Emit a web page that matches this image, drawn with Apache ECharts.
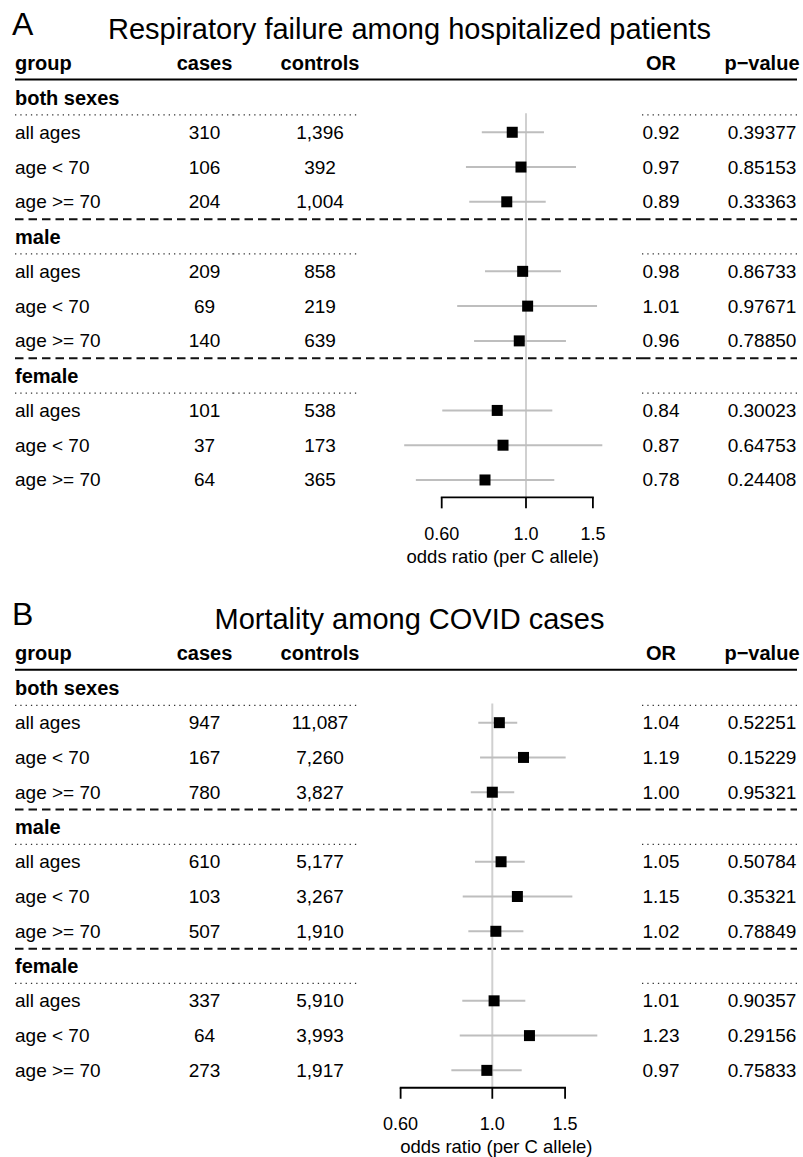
<!DOCTYPE html>
<html><head><meta charset="utf-8">
<script src="https://cdn.jsdelivr.net/npm/echarts@6/dist/echarts.min.js"></script>
<style>html,body{margin:0;padding:0;background:#fff}#c{width:803px;height:1157px}</style>
</head><body><div id="c"></div>
<script>
// ---------------- data ----------------
const sexGroups = ['both sexes', 'male', 'female'];
const ageGroups = ['all ages', 'age < 70', 'age >= 70'];
const columnHeaders = ['group', 'cases', 'controls', 'OR', 'p\u2212value'];
const tickValues = [0.6, 1.0, 1.5];
const tickLabels = ['0.60', '1.0', '1.5'];
const xAxisLabel = 'odds ratio (per C allele)';

const titleA = 'Respiratory failure among hospitalized patients';
const casesA = [310, 106, 204, 209, 69, 140, 101, 37, 64];
const controlsA = [1396, 392, 1004, 858, 219, 639, 538, 173, 365];
const orA = [0.92, 0.97, 0.89, 0.98, 1.01, 0.96, 0.84, 0.87, 0.78];
const lowerA = [0.765, 0.695, 0.709, 0.780, 0.659, 0.730, 0.602, 0.478, 0.513];
const upperA = [1.115, 1.354, 1.127, 1.236, 1.538, 1.274, 1.173, 1.588, 1.187];
const pA = ['0.39377', '0.85153', '0.33363', '0.86733', '0.97671', '0.78850', '0.30023', '0.64753', '0.24408'];

const titleB = 'Mortality among COVID cases';
const casesB = [947, 167, 780, 610, 103, 507, 337, 64, 273];
const controlsB = [11087, 7260, 3827, 5177, 3267, 1910, 5910, 3993, 1917];
const orB = [1.04, 1.19, 1.00, 1.05, 1.15, 1.02, 1.01, 1.23, 0.97];
const lowerB = [0.925, 0.934, 0.887, 0.908, 0.848, 0.875, 0.846, 0.834, 0.796];
const upperB = [1.149, 1.505, 1.130, 1.198, 1.562, 1.189, 1.202, 1.795, 1.178];
const pB = ['0.52251', '0.15229', '0.95321', '0.50784', '0.35321', '0.78849', '0.90357', '0.29156', '0.75833'];

// ---------------- layout ----------------
const FONT = '"Liberation Sans", Arial, Helvetica, sans-serif';
const PITCH = 34.77;
const Y_MIN = -2.5, Y_MAX = 13.4;
const GRID_LEFT = 380, GRID_WIDTH = 240;
const colX = {group: 15, cases: 204.5, controls: 320, or: 661, p: 762};

const panels = [
  {letter: 'A', title: titleA, cases: casesA, controls: controlsA, or: orA, lower: lowerA, upper: upperA, p: pA,
   row0: 97.5, xmin: 0.4128, xmax: 1.7677, xlabelX: 502.7},
  {letter: 'B', title: titleB, cases: casesB, controls: controlsB, or: orB, lower: lowerB, upper: upperB, p: pB,
   row0: 687.9, xmin: 0.5349, xmax: 2.0369, xlabelX: 496.3}
];

const rowOf = k => Math.floor(k / 3) * 4 + (k % 3) + 1;
const fmtInt = n => String(n).replace(/\B(?=(\d{3})+(?!\d))/g, ',');

function txt(x, y, s, align, size, weight, fill) {
  return {type: 'text', style: {x: x, y: y, text: s, align: align, verticalAlign: 'middle',
    fontSize: size, fontWeight: weight || 'normal', fontFamily: FONT, fill: fill || '#000'}};
}
function seg(x1, y1, x2, y2, stroke, width, dash) {
  return {type: 'line', shape: {x1: x1, y1: y1, x2: x2, y2: y2},
    style: {stroke: stroke, lineWidth: width, lineDash: dash || null, fill: null}};
}

const grids = [], xAxes = [], yAxes = [], series = [];

panels.forEach((P, i) => {
  grids.push({left: GRID_LEFT, width: GRID_WIDTH, top: P.row0 + Y_MIN * PITCH, height: (Y_MAX - Y_MIN) * PITCH});
  xAxes.push({type: 'log', gridIndex: i, min: P.xmin, max: P.xmax, show: false});
  yAxes.push({type: 'value', gridIndex: i, min: Y_MIN, max: Y_MAX, inverse: true, show: false});
  const base = {type: 'custom', coordinateSystem: 'cartesian2d', xAxisIndex: i, yAxisIndex: i, silent: true, animation: false};

  // decorations: titles, headers, separators
  series.push(Object.assign({}, base, {
    data: [[1, 0]], encode: {x: 0, y: 1},
    renderItem: (params, api) => {
      const Y = r => api.coord([1, r])[1];
      const ch = [];
      ch.push(txt(12, Y(-2.12), P.letter, 'left', 32));
      ch.push(txt(409.5, Y(-1.97), P.title, 'center', 29));
      ch.push(txt(colX.group, Y(-1), columnHeaders[0], 'left', 20, 'bold'));
      ch.push(txt(colX.cases, Y(-1), columnHeaders[1], 'center', 20, 'bold'));
      ch.push(txt(colX.controls, Y(-1), columnHeaders[2], 'center', 20, 'bold'));
      ch.push(txt(colX.or, Y(-1), columnHeaders[3], 'center', 20, 'bold'));
      ch.push(txt(colX.p, Y(-1), columnHeaders[4], 'center', 20, 'bold'));
      ch.push(seg(15, Y(-0.52), 797, Y(-0.52), '#000', 2));
      sexGroups.forEach((g, gi) => {
        const r = gi * 4;
        ch.push(txt(colX.group, Y(r), g, 'left', 20, 'bold'));
        const yd = Y(r + 0.5);
        ch.push(seg(15, yd, 233, yd, '#333', 1.3, [1.3, 4]));
        ch.push(seg(233, yd, 358, yd, '#333', 1.3, [1.3, 4]));
        ch.push(seg(642, yd, 797, yd, '#333', 1.3, [1.3, 4]));
        if (gi > 0) {
          const yl = Y(r - 0.5);
          ch.push(seg(15, yl, 642, yl, '#111', 2, [8.5, 5]));
          ch.push(seg(642, yl, 797, yl, '#111', 2, [8.5, 5]));
        }
      });
      return {type: 'group', children: ch};
    }
  }));

  // reference line at OR = 1
  series.push(Object.assign({}, base, {
    data: [[1, 0.45, 11.5]], encode: {x: 0, y: [1, 2]},
    renderItem: (params, api) => {
      const a = api.coord([api.value(0), api.value(1)]);
      const b = api.coord([api.value(0), api.value(2)]);
      return seg(a[0], a[1], b[0], b[1], '#d0d0d0', 2);
    }
  }));

  // table text per row
  series.push(Object.assign({}, base, {
    data: P.or.map((v, k) => [1, rowOf(k)]), encode: {x: 0, y: 1},
    renderItem: (params, api) => {
      const k = params.dataIndex;
      const y = api.coord([1, api.value(1)])[1];
      return {type: 'group', children: [
        txt(colX.group, y, ageGroups[k % 3], 'left', 19),
        txt(colX.cases, y, fmtInt(P.cases[k]), 'center', 19),
        txt(colX.controls, y, fmtInt(P.controls[k]), 'center', 19),
        txt(colX.or, y, P.or[k].toFixed(2), 'center', 19),
        txt(colX.p, y, P.p[k], 'center', 19)
      ]};
    }
  }));

  // CI lines and point estimates
  series.push(Object.assign({}, base, {
    data: P.or.map((v, k) => [v, P.lower[k], P.upper[k], rowOf(k)]), encode: {x: [0, 1, 2], y: 3},
    renderItem: (params, api) => {
      const r = api.value(3);
      const lo = api.coord([api.value(1), r]);
      const hi = api.coord([api.value(2), r]);
      const c = api.coord([api.value(0), r]);
      const s = 11;
      return {type: 'group', children: [
        seg(lo[0], lo[1], hi[0], hi[1], '#bebebe', 2),
        {type: 'rect', shape: {x: c[0] - s / 2, y: c[1] - s / 2, width: s, height: s}, style: {fill: '#000'}}
      ]};
    }
  }));

  // x axis: line and title
  series.push(Object.assign({}, base, {
    data: [[tickValues[0], tickValues[tickValues.length - 1], 11.5]], encode: {x: [0, 1], y: 2},
    renderItem: (params, api) => {
      const a = api.coord([api.value(0), api.value(2)]);
      const b = api.coord([api.value(1), api.value(2)]);
      const yl = api.coord([1, 13.2])[1];
      return {type: 'group', children: [
        seg(a[0] - 0.9, a[1], b[0] + 0.9, b[1], '#000', 1.8),
        txt(P.xlabelX, yl, xAxisLabel, 'center', 18.5)
      ]};
    }
  }));

  // x axis: ticks and labels
  series.push(Object.assign({}, base, {
    data: tickValues.map(v => [v, 11.5]), encode: {x: 0, y: 1},
    renderItem: (params, api) => {
      const a = api.coord([api.value(0), api.value(1)]);
      const yl = api.coord([1, 12.55])[1];
      return {type: 'group', children: [
        seg(a[0], a[1], a[0], a[1] + 11, '#000', 1.8),
        txt(a[0], yl, tickLabels[params.dataIndex], 'center', 18)
      ]};
    }
  }));
});

const chart = echarts.init(document.getElementById('c'), null, {renderer: 'svg'});
chart.setOption({
  backgroundColor: '#fff',
  animation: false,
  grid: grids, xAxis: xAxes, yAxis: yAxes, series: series
});
</script></body></html>
